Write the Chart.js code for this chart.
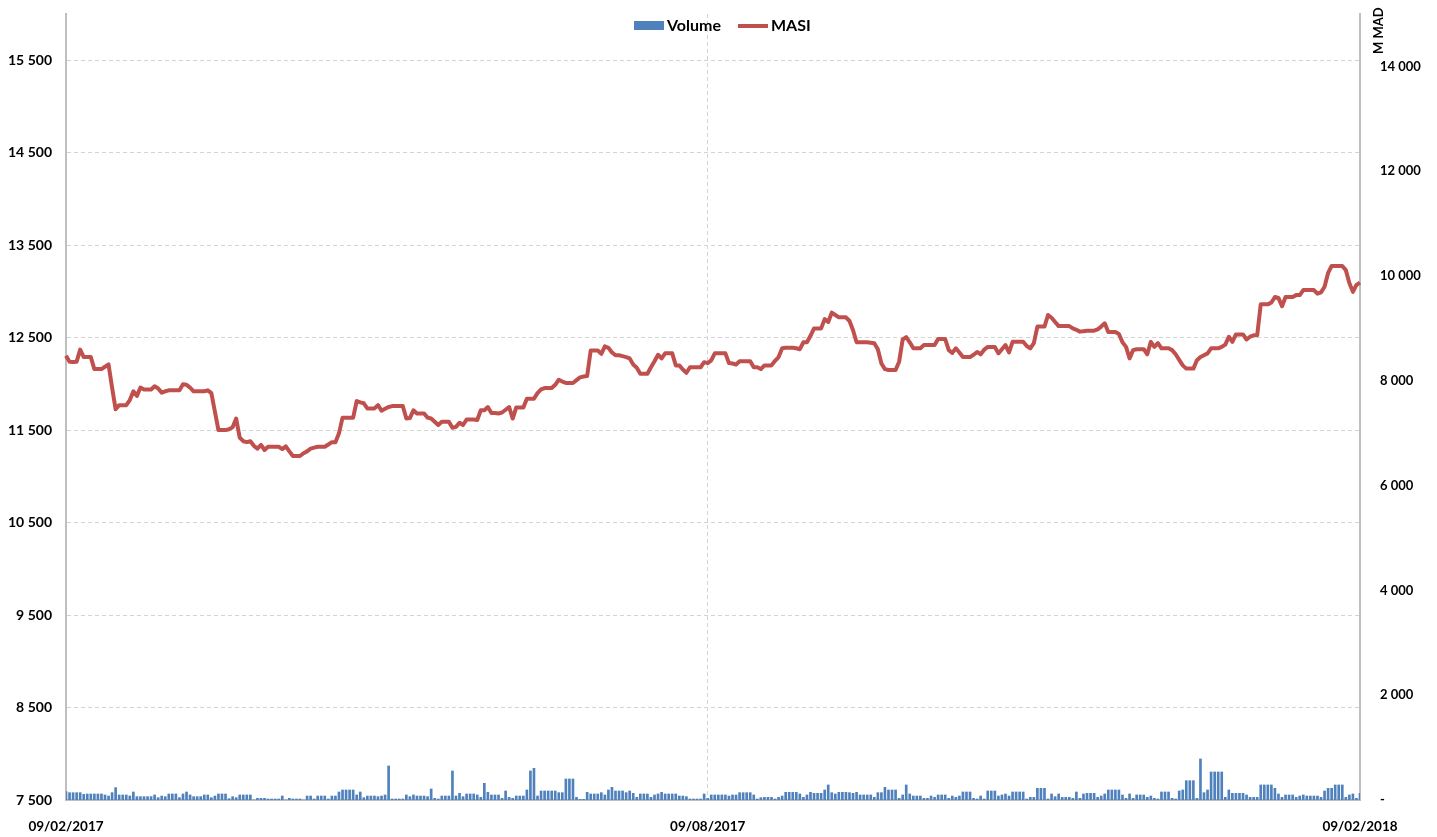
<!DOCTYPE html>
<html><head><meta charset="utf-8">
<script src="https://cdn.jsdelivr.net/npm/chart.js@4.4.1/dist/chart.umd.min.js"></script>
<style>html,body{margin:0;padding:0;background:#fff}#wrap{width:1437px;height:837px;position:relative}</style>
</head><body><div id="wrap"><canvas id="c"></canvas></div>
<script>
// ---- data ----
const firstDay = [2017, 1, 9];           // 09/02/2017 (year, monthIndex, day)
const dayCount = 366;                    // 09/02/2017 .. 09/02/2018
const tickDayIndexes = [0, 181, 365];    // 09/02/2017, 09/08/2017, 09/02/2018
const masiTicks = [7500, 8500, 9500, 10500, 11500, 12500, 13500, 14500, 15500];
const volumeTicks = [0, 2000, 4000, 6000, 8000, 10000, 12000, 14000];
const seriesNames = ['Volume', 'MASI'];
const unitLabel = 'M MAD';

const masi = [
12305,12240,12237,12240,12370,12290,12290,12290,12160,12160,
12160,12185,12210,11960,11725,11770,11770,11770,11825,11920,
11870,11960,11940,11940,11940,11975,11950,11905,11920,11930,
11930,11930,11930,11995,11990,11960,11920,11920,11920,11920,
11930,11900,11700,11500,11500,11500,11510,11530,11625,11420,
11380,11370,11380,11330,11300,11340,11285,11320,11320,11320,
11320,11295,11325,11270,11220,11220,11220,11250,11270,11300,
11310,11320,11320,11320,11345,11370,11370,11465,11635,11635,
11635,11635,11815,11800,11790,11735,11735,11735,11770,11710,
11730,11750,11760,11760,11760,11760,11625,11630,11715,11680,
11680,11680,11635,11625,11590,11555,11590,11590,11590,11525,
11535,11580,11555,11615,11615,11615,11610,11715,11715,11750,
11685,11685,11680,11690,11720,11750,11625,11745,11745,11745,
11840,11840,11840,11900,11940,11955,11955,11955,11990,12045,
12025,12010,12010,12010,12040,12070,12080,12085,12360,12360,
12360,12325,12405,12390,12340,12310,12310,12300,12290,12275,
12210,12175,12110,12110,12110,12180,12245,12315,12275,12330,
12330,12330,12200,12200,12155,12120,12180,12180,12180,12180,
12235,12225,12255,12330,12330,12330,12330,12225,12220,12210,
12245,12245,12245,12245,12180,12180,12160,12200,12200,12200,
12250,12290,12385,12390,12390,12390,12385,12375,12450,12450,
12520,12600,12600,12600,12700,12670,12770,12745,12720,12720,
12720,12680,12580,12450,12450,12450,12450,12445,12440,12375,
12220,12160,12150,12150,12150,12240,12480,12505,12450,12385,
12385,12385,12420,12420,12420,12420,12485,12485,12485,12365,
12335,12385,12340,12290,12290,12290,12315,12345,12320,12370,
12400,12400,12400,12330,12375,12420,12340,12455,12455,12455,
12455,12410,12385,12440,12620,12620,12620,12745,12715,12670,
12625,12625,12625,12625,12600,12585,12565,12570,12575,12575,
12575,12590,12620,12655,12560,12560,12560,12540,12450,12400,
12275,12365,12375,12375,12375,12320,12455,12400,12440,12385,
12385,12385,12365,12320,12260,12200,12165,12165,12165,12255,
12290,12310,12330,12385,12385,12385,12400,12425,12510,12455,
12535,12535,12535,12480,12510,12525,12525,12860,12860,12860,
12880,12940,12930,12840,12940,12940,12940,12960,12960,13015,
13015,13015,13015,12975,12990,13050,13200,13275,13275,13275,
13275,13230,13090,12995,13070,13095
];

const volume = [
159,140,140,140,140,108,115,115,115,115,
115,96,76,140,236,96,96,96,76,153,
64,64,64,64,64,96,45,76,64,115,
115,115,45,115,153,96,64,64,64,96,
96,45,76,115,115,115,25,64,45,96,
96,96,96,0,32,32,32,19,19,19,
19,76,0,32,19,19,19,0,76,76,
19,76,76,76,19,76,76,153,191,191,
191,191,96,153,45,76,76,76,64,76,
96,650,19,19,19,19,96,64,96,76,
76,76,64,210,32,19,76,76,76,554,
76,127,64,115,115,115,96,
51,318,147,96,96,96,32,172,51,32,
76,76,76,191,554,605,76,172,172,172,
172,172,140,140,401,401,401,51,13,13,
147,115,115,115,140,96,191,242,172,172,
172,140,172,127,51,115,115,115,51,96,
115,147,115,115,115,115,76,76,64,19,
19,19,19,115,32,96,96,96,96,96,
76,96,96,140,140,140,140,96,19,45,
51,51,51,19,51,76,147,147,147,147,
115,51,96,147,127,127,127,191,287,140,
115,147,147,147,140,127,147,96,96,96,
96,51,140,140,242,191,191,191,32,96,
287,115,76,76,76,32,32,76,51,96,
96,96,32,76,51,76,
153,153,153,32,19,76,19,172,172,172,
76,96,115,76,153,153,153,153,19,51,
51,223,223,223,19,115,64,115,51,51,
51,32,153,32,115,127,127,127,51,76,
115,191,191,191,191,96,32,115,32,96,
96,96,51,76,32,19,153,153,153,32,
19,172,191,369,369,369,32,783,140,191,
535,535,535,535,51,191,127,127,127,127,
96,51,51,51,287,287,287,287,223,115,
51,96,96,96,51,76,96,76,76,76,
76,51,172,223,223,287,287,287,51,96,
115,32,127
];

// ---- build categories (calendar days) ----
const pad2 = n => (n < 10 ? '0' : '') + n;
const categories = [];
for (let i = 0; i < dayCount; i++) {
  const d = new Date(Date.UTC(firstDay[0], firstDay[1], firstDay[2] + i));
  categories.push(pad2(d.getUTCDate()) + '/' + pad2(d.getUTCMonth() + 1) + '/' + d.getUTCFullYear());
}

const fmt = v => v === 0 ? '-' : String(v).replace(/\B(?=(\d{3})+(?!\d))/g, ' ');

const BLUE = '#4F81BD', RED = '#C0504D', AXIS = '#bfbfbf', GRID = '#d3d3d3';
const FONT = 'Lato, "Open Sans", sans-serif';
Chart.defaults.font.family = FONT;
Chart.defaults.font.weight = 'bold';
Chart.defaults.color = '#000';

const overlay = {
  id: 'overlay',
  afterDraw(chart) {
    const ctx = chart.ctx;
    const dsVol = chart.data.datasets.find(d => d.label === seriesNames[0]);
    const dsMasi = chart.data.datasets.find(d => d.label === seriesNames[1]);
    ctx.save();
    // legend
    ctx.font = 'bold 16px ' + FONT;
    ctx.textBaseline = 'middle';
    ctx.textAlign = 'left';
    ctx.fillStyle = dsVol.backgroundColor;
    ctx.fillRect(634, 21, 30, 9);
    ctx.fillStyle = '#000';
    ctx.fillText(dsVol.label, 667, 26);
    ctx.strokeStyle = dsMasi.borderColor;
    ctx.lineWidth = 4;
    ctx.beginPath(); ctx.moveTo(738, 26); ctx.lineTo(768, 26); ctx.stroke();
    ctx.fillText(dsMasi.label, 771, 26);
    // unit label on right axis
    ctx.font = 'bold 13px ' + FONT;
    ctx.textBaseline = 'alphabetic';
    ctx.translate(1383, 54);
    ctx.rotate(-Math.PI / 2);
    ctx.fillText(unitLabel, 0, 0);
    ctx.restore();
  }
};

const noVPad = s => { s.paddingTop = 0; s.paddingBottom = 0; };

const chart = new Chart(document.getElementById('c'), {
  data: {
    labels: categories,
    datasets: [
      { type: 'line', label: seriesNames[1], data: masi, yAxisID: 'y', borderColor: RED, backgroundColor: RED,
        borderWidth: 4, pointRadius: 0, tension: 0, order: 0, borderJoinStyle: 'round' },
      { type: 'bar', label: seriesNames[0], data: volume, yAxisID: 'y1', backgroundColor: BLUE,
        barThickness: 2, order: 1 }
    ]
  },
  plugins: [overlay],
  options: {
    responsive: true, maintainAspectRatio: false, animation: false,
    layout: { padding: { top: 14, left: 0, right: 0, bottom: 0 } },
    plugins: { legend: { display: false }, title: { display: false }, tooltip: { enabled: false } },
    scales: {
      x: {
        offset: false,
        afterBuildTicks(s) { s.ticks = tickDayIndexes.map(v => ({ value: v })); },
        afterFit(s) { s.height = 37; s.paddingLeft = 0; s.paddingRight = 0; },
        ticks: { autoSkip: false, maxRotation: 0, minRotation: 0, padding: 19,
                 font: { size: 13.5, weight: 'bold' }, color: '#000' },
        grid: { offset: false, drawTicks: false, color: c => (c.index === 0 ? 'rgba(0,0,0,0)' : GRID), lineWidth: 1 },
        border: { color: AXIS, width: 2, dash: [4, 3] }
      },
      y: {
        position: 'left', min: 7500, max: 16000,
        afterBuildTicks(s) { s.ticks = masiTicks.map(v => ({ value: v })); },
        afterFit(s) { s.width = 66; noVPad(s); },
        ticks: { callback: v => fmt(v), padding: 14, font: { size: 14, weight: 'bold' }, color: '#000' },
        grid: { drawTicks: false, color: GRID, lineWidth: 1 },
        border: { color: AXIS, width: 2, dash: [4, 3] }
      },
      y1: {
        position: 'right', min: 0, max: 15000,
        afterBuildTicks(s) { s.ticks = volumeTicks.map(v => ({ value: v })); },
        afterFit(s) { s.width = 77; noVPad(s); },
        ticks: { callback: v => fmt(v), padding: 20, font: { size: 13, weight: 'bold' }, color: '#000' },
        grid: { display: false, drawTicks: false },
        border: { color: AXIS, width: 2 }
      }
    }
  }
});
</script></body></html>
